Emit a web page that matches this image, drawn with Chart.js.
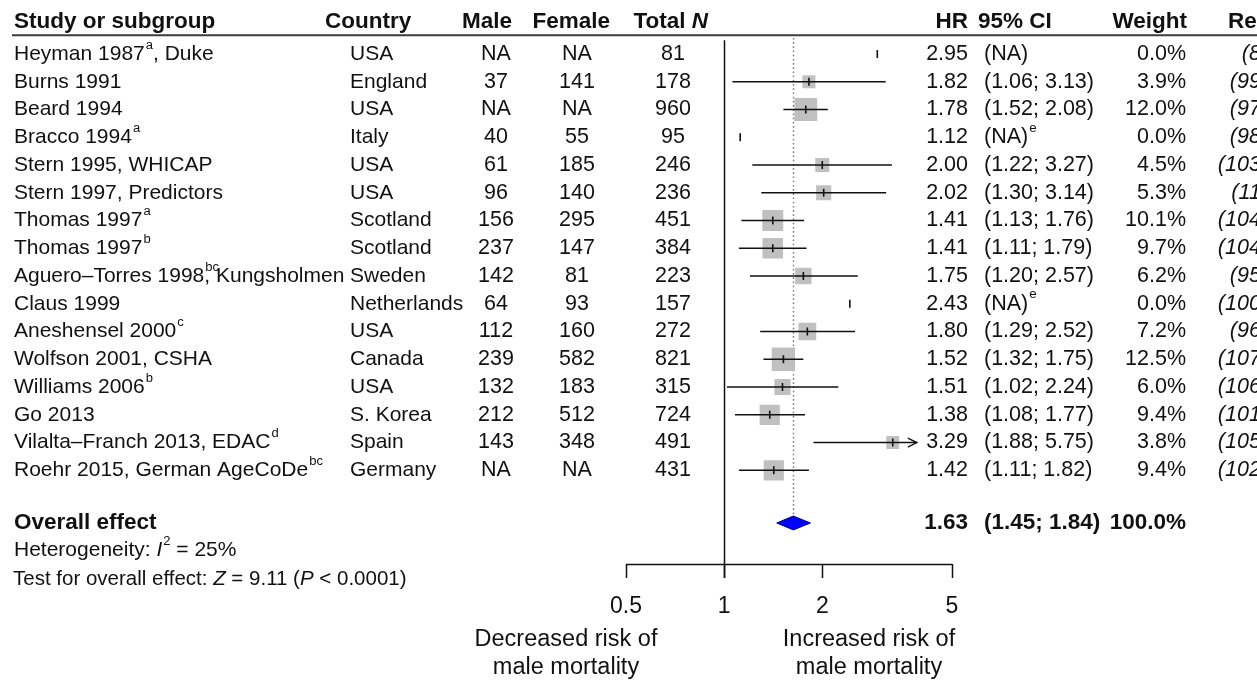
<!DOCTYPE html>
<html>
<head>
<meta charset="utf-8">
<title>Forest plot – male vs female mortality</title>
<script src="https://cdn.jsdelivr.net/npm/chart.js@4.4.1/dist/chart.umd.min.js"></script>
<style>
  html, body { margin: 0; padding: 0; background: #fff; }
  #wrap { width: 1257px; height: 682px; }
</style>
</head>
<body>
<div id="wrap"><canvas id="forest" width="1257" height="682"></canvas></div>
<script>
// ── 데이터 ──────────────────────────────────────────────────────────────
// ^{x} = 위첨자, ^0{x} = 폭을 차지하지 않는 위첨자, *x* = 이탤릭
const STUDIES = [
  'Heyman 1987^{a}, Duke', 'Burns 1991', 'Beard 1994', 'Bracco 1994^{a}',
  'Stern 1995, WHICAP', 'Stern 1997, Predictors', 'Thomas 1997^{a}', 'Thomas 1997^{b}',
  'Aguero–Torres 1998^0{bc}, Kungsholmen', 'Claus 1999', 'Aneshensel 2000^{c}',
  'Wolfson 2001, CSHA', 'Williams 2006^{b}', 'Go 2013',
  'Vilalta–Franch 2013, EDAC^{d}', 'Roehr 2015, German AgeCoDe^{bc}',
];
const COUNTRIES = ['USA', 'England', 'USA', 'Italy', 'USA', 'USA', 'Scotland', 'Scotland',
  'Sweden', 'Netherlands', 'USA', 'Canada', 'USA', 'S. Korea', 'Spain', 'Germany'];
const MALE   = ['NA', '37', 'NA', '40', '61', '96', '156', '237', '142', '64', '112', '239', '132', '212', '143', 'NA'];
const FEMALE = ['NA', '141', 'NA', '55', '185', '140', '295', '147', '81', '93', '160', '582', '183', '512', '348', 'NA'];
const TOTAL_N = [81, 178, 960, 95, 246, 236, 451, 384, 223, 157, 272, 821, 315, 724, 491, 431];
const HR     = [2.95, 1.82, 1.78, 1.12, 2.00, 2.02, 1.41, 1.41, 1.75, 2.43, 1.80, 1.52, 1.51, 1.38, 3.29, 1.42];
const CI_LO  = [null, 1.06, 1.52, null, 1.22, 1.30, 1.13, 1.11, 1.20, null, 1.29, 1.32, 1.02, 1.08, 1.88, 1.11];
const CI_HI  = [null, 3.13, 2.08, null, 3.27, 3.14, 1.76, 1.79, 2.57, null, 2.52, 1.75, 2.24, 1.77, 5.75, 1.82];
const CI_NOTE = ['', '', '', 'e', '', '', '', '', '', 'e', '', '', '', '', '', ''];
const WEIGHT = [0.0, 3.9, 12.0, 0.0, 4.5, 5.3, 10.1, 9.7, 6.2, 0.0, 7.2, 12.5, 6.0, 9.4, 3.8, 9.4];
const REFS   = ['(8)', '(99)', '(97)', '(98)', '(103)', '(11)', '(104)', '(104)', '(95)', '(100)',
  '(96)', '(107)', '(106)', '(101)', '(105)', '(102)'];

const OVERALL = { hr: 1.63, lo: 1.45, hi: 1.84, weight: '100.0%' };
const HETEROGENEITY = 'Heterogeneity: *I*^{2} = 25%';
const OVERALL_TEST = 'Test for overall effect: *Z* = 9.11 (*P* < 0.0001)';

const AXIS_TICKS = [0.5, 1, 2, 5];
const AXIS_MIN = 0.5;
const AXIS_MAX = 5;
const CLIP_HI = 3.9;   // 그림 오른쪽 한계 (화살표로 표시)
const LABEL_LEFT = ['Decreased risk of', 'male mortality'];
const LABEL_RIGHT = ['Increased risk of', 'male mortality'];

// ── 레이아웃 (행 단위) ──────────────────────────────────────────────────
const FONT = "'Liberation Sans', Arial, Helvetica, sans-serif";
const FS = 21.5;        // 숫자 열
const FS_TEXT = 21;     // 연구명, 국가
const FS_BOLD = 22.5;   // 헤더, 전체 효과
const FS_AXIS = 23.5;
const ROW_HEADER = -0.15;
const ROW_RULE = 0.32;
const ROW_OVERALL = 17.9;
const ROW_HET = 18.87;
const ROW_TEST = 19.92;
const Y_MAX = 19.378;
const TXT = '#111';

const rows = STUDIES.map((_, i) => i + 1);

// ── 서식 텍스트 ─────────────────────────────────────────────────────────
function richRuns(str) {
  return str.split(/(\^0?\{[^}]*\}|\*[^*]*\*)/).filter(s => s).map(s => {
    if (s.startsWith('^0{')) return { t: s.slice(3, -1), sup: true, noAdv: true };
    if (s.startsWith('^{')) return { t: s.slice(2, -1), sup: true };
    if (s.startsWith('*')) return { t: s.slice(1, -1), it: true };
    return { t: s };
  });
}

function fontFor(run, base) {
  const size = run.sup ? base.size * 0.62 : base.size;
  const it = run.it || base.italic ? 'italic ' : '';
  const bd = base.bold ? 'bold ' : '';
  return `${it}${bd}${size}px ${FONT}`;
}

function drawRich(ctx, str, x, y, align, base = {}) {
  base = Object.assign({ size: FS, bold: false, italic: false }, base);
  const runs = richRuns(str);
  let total = 0;
  runs.forEach(r => {
    ctx.font = fontFor(r, base);
    r.w = ctx.measureText(r.t).width;
    if (!r.noAdv) total += r.w;
  });
  let cx = align === 'right' ? x - total : align === 'center' ? x - total / 2 : x;
  ctx.textAlign = 'left';
  ctx.textBaseline = 'middle';
  ctx.fillStyle = TXT;
  runs.forEach(r => {
    ctx.font = fontFor(r, base);
    ctx.fillText(r.t, cx + (r.sup ? 1 : 0), r.sup ? y - base.size * 0.42 : y);
    if (!r.noAdv) cx += r.w + (r.sup ? 1 : 0);
  });
}

const ciText = (i) => CI_LO[i] == null
  ? '(NA)' + (CI_NOTE[i] ? `^{${CI_NOTE[i]}}` : '')
  : `(${CI_LO[i].toFixed(2)}; ${CI_HI[i].toFixed(2)})`;

// ── 데이터셋 ────────────────────────────────────────────────────────────
// 신뢰구간 선 (연구별)
const ciDatasets = rows
  .map((r, i) => ({ r, i }))
  .filter(({ i }) => CI_LO[i] != null)
  .map(({ r, i }) => ({
    type: 'line',
    data: [{ x: CI_LO[i], y: r }, { x: Math.min(CI_HI[i], CLIP_HI), y: r }],
    borderColor: '#111',
    borderWidth: 1.4,
    pointRadius: 0,
    fill: false,
    order: 2,
  }));

// 가중치 비례 회색 사각형 (면적 ∝ weight)
const squareDataset = {
  type: 'scatter',
  data: rows.map((r, i) => ({ x: HR[i], y: r })),
  pointStyle: 'rect',
  pointRadius: WEIGHT.map(w => (6.6 * Math.sqrt(w)) / Math.SQRT2),
  backgroundColor: '#c0c0c0',
  borderWidth: 0,
  order: 3,
};

// 점추정치 세로 눈금
const estDataset = {
  type: 'scatter',
  data: rows.map((r, i) => ({ x: HR[i], y: r })),
  pointStyle: 'line',
  rotation: 90,
  pointRadius: 4,
  borderColor: '#111',
  borderWidth: 1.6,
  order: 1,
};

// 전체 효과 다이아몬드
const DIAMOND_H = 0.25;
const diamondDataset = {
  type: 'line',
  data: [
    { x: OVERALL.lo, y: ROW_OVERALL },
    { x: OVERALL.hr, y: ROW_OVERALL - DIAMOND_H },
    { x: OVERALL.hi, y: ROW_OVERALL },
    { x: OVERALL.hr, y: ROW_OVERALL + DIAMOND_H },
    { x: OVERALL.lo, y: ROW_OVERALL },
  ],
  borderColor: '#00008b',
  borderWidth: 1,
  backgroundColor: '#0000ff',
  fill: 'shape',
  pointRadius: 0,
  order: 0,
};

// ── 기준선 / 축 플러그인 ───────────────────────────────────────────────
const refLines = {
  id: 'refLines',
  beforeDatasetsDraw(chart) {
    const { ctx, scales: { x, y } } = chart;
    ctx.save();
    // 전체 효과 점선
    const xo = Math.round(x.getPixelForValue(OVERALL.hr)) + 0.5;
    ctx.strokeStyle = '#7a7a7a';
    ctx.lineWidth = 1.4;
    ctx.setLineDash([1.6, 2.6]);
    ctx.beginPath();
    ctx.moveTo(xo, y.getPixelForValue(0.42));
    ctx.lineTo(xo, y.getPixelForValue(ROW_OVERALL - DIAMOND_H));
    ctx.stroke();
    ctx.restore();
  },
  afterDatasetsDraw(chart) {
    const { ctx, chartArea, scales: { x, y } } = chart;
    ctx.save();
    ctx.strokeStyle = '#111';
    ctx.lineWidth = 1.5;
    const axisY = chartArea.bottom;
    const tickLen = 14;
    // x = 1 기준선
    const x1 = Math.round(x.getPixelForValue(1)) + 0.5;
    ctx.beginPath();
    ctx.moveTo(x1, y.getPixelForValue(0.5));
    ctx.lineTo(x1, axisY + tickLen);
    ctx.stroke();
    // 축선 + 눈금
    ctx.beginPath();
    ctx.moveTo(x.getPixelForValue(AXIS_MIN), axisY + 0.5);
    ctx.lineTo(x.getPixelForValue(AXIS_MAX), axisY + 0.5);
    AXIS_TICKS.forEach(t => {
      const px = Math.round(x.getPixelForValue(t)) + 0.5;
      ctx.moveTo(px, axisY);
      ctx.lineTo(px, axisY + tickLen);
    });
    ctx.stroke();
    AXIS_TICKS.forEach(t => {
      drawRich(ctx, String(t), x.getPixelForValue(t), axisY + 43, 'center', { size: 23 });
    });
    // 잘린 신뢰구간 화살표
    CI_HI.forEach((hi, i) => {
      if (hi == null || hi <= CLIP_HI) return;
      const tx = x.getPixelForValue(CLIP_HI);
      const ty = y.getPixelForValue(rows[i]);
      ctx.lineWidth = 1.4;
      ctx.beginPath();
      ctx.moveTo(tx - 9, ty - 4.5);
      ctx.lineTo(tx, ty);
      ctx.lineTo(tx - 9, ty + 4.5);
      ctx.stroke();
    });
    ctx.restore();
  },
};

// ── 표 텍스트 플러그인 ─────────────────────────────────────────────────
const COL = {
  study: 14, country: 350, countryHead: 325, male: 496, maleHead: 512,
  female: 577, femaleHead: 610, total: 673, totalHead: 708,
  hr: 968, ci: 984, ciHead: 978, weight: 1186, ref: 1268, refHead: 1228,
};

const tableText = {
  id: 'tableText',
  afterDraw(chart) {
    const { ctx, chartArea, scales: { y } } = chart;
    ctx.save();
    // 헤더
    const hy = y.getPixelForValue(ROW_HEADER);
    const B = { bold: true, size: FS_BOLD };
    const T = { size: FS_TEXT };
    drawRich(ctx, 'Study or subgroup', COL.study, hy, 'left', B);
    drawRich(ctx, 'Country', COL.countryHead, hy, 'left', B);
    drawRich(ctx, 'Male', COL.maleHead, hy, 'right', B);
    drawRich(ctx, 'Female', COL.femaleHead, hy, 'right', B);
    drawRich(ctx, 'Total *N*', COL.totalHead, hy, 'right', B);
    drawRich(ctx, 'HR', COL.hr, hy, 'right', B);
    drawRich(ctx, '95% CI', COL.ciHead, hy, 'left', B);
    drawRich(ctx, 'Weight', COL.weight + 1, hy, 'right', B);
    drawRich(ctx, 'References', COL.refHead, hy, 'left', B);

    // 헤더 밑줄
    const ry = y.getPixelForValue(ROW_RULE);
    ctx.strokeStyle = '#3c3c3c';
    ctx.lineWidth = 2;
    ctx.beginPath();
    ctx.moveTo(12, ry);
    ctx.lineTo(chart.width, ry);
    ctx.stroke();

    // 연구별 행
    rows.forEach((r, i) => {
      const py = y.getPixelForValue(r);
      drawRich(ctx, STUDIES[i], COL.study, py, 'left', T);
      drawRich(ctx, COUNTRIES[i], COL.country, py, 'left', T);
      drawRich(ctx, MALE[i], COL.male, py, 'center');
      drawRich(ctx, FEMALE[i], COL.female, py, 'center');
      drawRich(ctx, String(TOTAL_N[i]), COL.total, py, 'center');
      drawRich(ctx, HR[i].toFixed(2), COL.hr, py, 'right');
      drawRich(ctx, ciText(i), COL.ci, py, 'left');
      drawRich(ctx, WEIGHT[i].toFixed(1) + '%', COL.weight, py, 'right');
      drawRich(ctx, REFS[i], COL.ref, py, 'right', { italic: true });
    });

    // 전체 효과
    const oy = y.getPixelForValue(ROW_OVERALL);
    drawRich(ctx, 'Overall effect', COL.study, oy, 'left', B);
    drawRich(ctx, OVERALL.hr.toFixed(2), COL.hr, oy, 'right', B);
    drawRich(ctx, `(${OVERALL.lo.toFixed(2)}; ${OVERALL.hi.toFixed(2)})`, COL.ci, oy, 'left', B);
    drawRich(ctx, OVERALL.weight, COL.weight, oy, 'right', B);
    drawRich(ctx, HETEROGENEITY, COL.study, y.getPixelForValue(ROW_HET), 'left', { size: 21 });
    drawRich(ctx, OVERALL_TEST, COL.study - 1, y.getPixelForValue(ROW_TEST), 'left', { size: 20.5 });

    // 축 하단 설명
    const b = chartArea.bottom;
    const A = { size: FS_AXIS };
    LABEL_LEFT.forEach((t, k) => drawRich(ctx, t, 566, b + 76 + k * 28, 'center', A));
    LABEL_RIGHT.forEach((t, k) => drawRich(ctx, t, 869, b + 76 + k * 28, 'center', A));
    ctx.restore();
  },
};

// ── 차트 생성 ──────────────────────────────────────────────────────────
const canvas = document.getElementById('forest');
new Chart(canvas, {
  type: 'scatter',
  data: { datasets: [diamondDataset, estDataset, ...ciDatasets, squareDataset] },
  options: {
    responsive: false,
    animation: false,
    devicePixelRatio: 1,
    events: [],
    layout: { padding: { left: 626, right: 305, top: 26.25, bottom: 118 } },
    scales: {
      x: { type: 'logarithmic', min: AXIS_MIN, max: AXIS_MAX, display: false },
      y: { type: 'linear', min: 0, max: Y_MAX, reverse: true, display: false },
    },
    plugins: { legend: { display: false }, tooltip: { enabled: false } },
  },
  plugins: [refLines, tableText],
});
</script>
</body>
</html>
